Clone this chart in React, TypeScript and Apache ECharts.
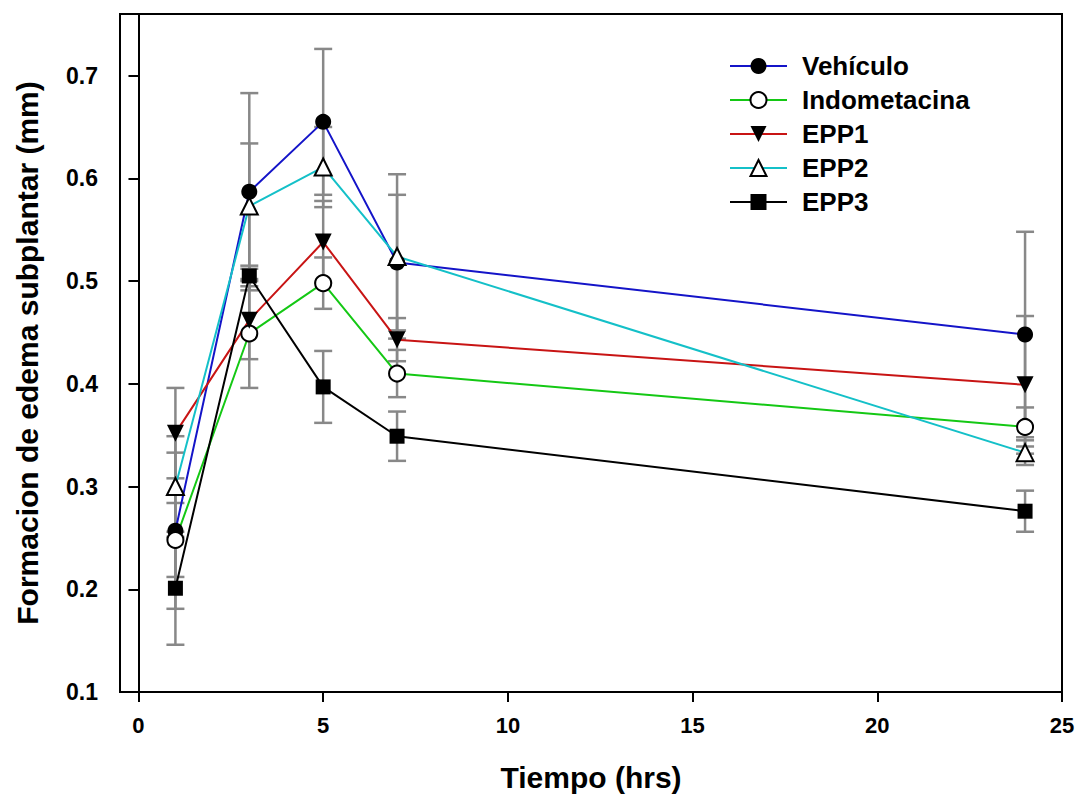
import React, { useEffect, useRef } from "react";
import * as echarts from "echarts";

const times = [1, 3, 5, 7, 24];
const vehiculo = [0.257, 0.587, 0.655, 0.518, 0.448];
const vehiculoErr = [0.076, 0.096, 0.071, 0.066, 0.1];
const indometacina = [0.248, 0.449, 0.498, 0.41, 0.358];
const indometacinaErr = [0.036, 0.053, 0.025, 0.023, 0.019];
const epp1 = [0.352, 0.462, 0.538, 0.443, 0.399];
const epp1Err = [0.044, 0.038, 0.04, 0.021, 0.067];
const epp2 = [0.3, 0.573, 0.611, 0.524, 0.333];
const epp2Err = [0.049, 0.061, 0.039, 0.08, 0.012];
const epp3 = [0.201, 0.505, 0.397, 0.349, 0.276];
const epp3Err = [0.055, 0.01, 0.035, 0.024, 0.02];

const xTicks = [0, 5, 10, 15, 20, 25];
const seriesNames = ["Vehículo", "Indometacina", "EPP1", "EPP2", "EPP3"];

const FONT = "'Liberation Sans', Arial, sans-serif";

export default function App() {
  const ref = useRef<HTMLDivElement>(null);
  useEffect(() => {
    document.body.style.margin = "0";
    if (!ref.current) return;
    const chart = echarts.init(ref.current, null, { renderer: "svg" });

    const groups = [
      { name: seriesNames[0], v: vehiculo, e: vehiculoErr, color: "#1414c8", symbol: "circle", fill: "#000", size: 16, rotate: 0 },
      { name: seriesNames[1], v: indometacina, e: indometacinaErr, color: "#14c814", symbol: "circle", fill: "#fff", size: 16, rotate: 0 },
      { name: seriesNames[2], v: epp1, e: epp1Err, color: "#c81414", symbol: "triangle", fill: "#000", size: 17, rotate: 180 },
      { name: seriesNames[3], v: epp2, e: epp2Err, color: "#14c0c8", symbol: "triangle", fill: "#fff", size: 17, rotate: 0 },
      { name: seriesNames[4], v: epp3, e: epp3Err, color: "#000000", symbol: "rect", fill: "#000", size: 15, rotate: 0 },
    ];

    const errData: number[][] = [];
    groups.forEach((g) => {
      times.forEach((t, i) => {
        errData.push([t, +(g.v[i] - g.e[i]).toFixed(4), +(g.v[i] + g.e[i]).toFixed(4)]);
      });
    });

    const lineSeries = groups.map((g) => ({
      name: g.name,
      type: "line",
      data: times.map((t, i) => [t, g.v[i]]),
      symbol: g.symbol,
      symbolSize: g.size,
      symbolRotate: g.rotate,
      z: 3,
      lineStyle: { color: g.color, width: 2 },
      itemStyle: {
        color: g.fill,
        borderColor: "#000",
        borderWidth: g.fill === "#fff" ? 2 : 0,
      },
      emphasis: { disabled: true },
    }));

    const option: any = {
      animation: false,
      backgroundColor: "#fff",
      grid: {
        left: 120,
        right: 15,
        top: 14,
        bottom: 106,
        show: true,
        borderColor: "#000",
        borderWidth: 2,
        outerBoundsMode: "none",
      },
      legend: {
        orient: "vertical",
        left: 724,
        top: 48,
        itemWidth: 57,
        itemHeight: 20,
        itemGap: 8,
        data: seriesNames,
        textStyle: {
          fontFamily: FONT,
          fontWeight: "bold",
          fontSize: 26,
          color: "#000",
          padding: [0, 0, 0, 10],
        },
      },
      xAxis: {
        type: "value",
        min: -0.5,
        max: 25,
        name: "Tiempo (hrs)",
        nameLocation: "middle",
        nameGap: 70,
        nameTextStyle: { fontFamily: FONT, fontWeight: "bold", fontSize: 30, color: "#000" },
        axisLine: { show: true, lineStyle: { color: "#000", width: 2 } },
        axisTick: { show: true, length: 10, customValues: xTicks, lineStyle: { color: "#000", width: 2 } },
        axisLabel: {
          customValues: xTicks,
          margin: 22,
          fontFamily: FONT,
          fontWeight: "bold",
          fontSize: 22,
          color: "#000",
        },
        splitLine: { show: false },
      },
      yAxis: {
        type: "value",
        min: 0.1,
        max: 0.76,
        interval: 0.1,
        name: "Formacion de edema subplantar (mm)",
        nameLocation: "middle",
        nameGap: 78,
        nameRotate: 90,
        nameTextStyle: { fontFamily: FONT, fontWeight: "bold", fontSize: 30, color: "#000" },
        axisLine: { show: true, lineStyle: { color: "#000", width: 2 } },
        axisTick: { show: true, length: 10, lineStyle: { color: "#000", width: 2 } },
        axisLabel: {
          margin: 22,
          fontFamily: FONT,
          fontWeight: "bold",
          fontSize: 23,
          color: "#000",
          formatter: (v: number) => (Math.abs(v * 10 - Math.round(v * 10)) < 1e-6 && v <= 0.7 + 1e-9 ? v.toFixed(1) : ""),
        },
        splitLine: { show: false },
      },
      series: [
        {
          type: "custom",
          name: "err",
          z: 1,
          data: errData,
          encode: { x: 0, y: [1, 2] },
          renderItem: (params: any, api: any) => {
            const x = api.value(0);
            const lo = api.coord([x, api.value(1)]);
            const hi = api.coord([x, api.value(2)]);
            const hw = 9;
            const style = { stroke: "#888888", lineWidth: 2.5 };
            return {
              type: "group",
              children: [
                { type: "line", shape: { x1: lo[0], y1: lo[1], x2: hi[0], y2: hi[1] }, style },
                { type: "line", shape: { x1: lo[0] - hw, y1: lo[1], x2: lo[0] + hw, y2: lo[1] }, style },
                { type: "line", shape: { x1: hi[0] - hw, y1: hi[1], x2: hi[0] + hw, y2: hi[1] }, style },
              ],
            };
          },
        },
        ...lineSeries,
      ],
    };
    chart.setOption(option);
    return () => chart.dispose();
  }, []);
  return <div ref={ref} style={{ width: 1077, height: 798 }} />;
}
